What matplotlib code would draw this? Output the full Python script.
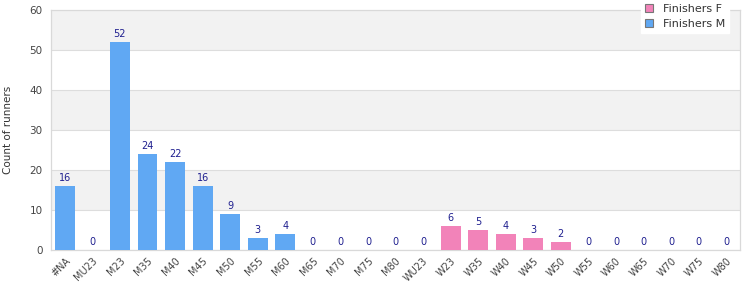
import matplotlib.pyplot as plt
from matplotlib.patches import Patch

# data
categories = ['#NA', 'MU23', 'M23', 'M35', 'M40', 'M45', 'M50', 'M55', 'M60', 'M65',
              'M70', 'M75', 'M80', 'WU23', 'W23', 'W35', 'W40', 'W45', 'W50', 'W55',
              'W60', 'W65', 'W70', 'W75', 'W80']
finishers_m = [16, 0, 52, 24, 22, 16, 9, 3, 4, 0, 0, 0, 0]
finishers_f = [0, 6, 5, 4, 3, 2, 0, 0, 0, 0, 0, 0]

col_m = '#60a8f3'
col_f = '#f283b9'

fig = plt.figure(figsize=(7.5, 3), dpi=100)
ax = fig.add_axes([51 / 750, 50 / 300, 689 / 750, 240 / 300])

x_m = list(range(len(finishers_m)))
x_f = list(range(len(finishers_m), len(categories)))
ax.bar(x_m, finishers_m, width=0.72, color=col_m, zorder=3)
ax.bar(x_f, finishers_f, width=0.72, color=col_f, zorder=3)

# value labels
for x, v in zip(x_m + x_f, finishers_m + finishers_f):
    ax.text(x, v + 0.8, str(v), ha='center', va='bottom', fontsize=7, color='#1f1f8f', zorder=4)

ax.set_xlim(-0.5, len(categories) - 0.5)
ax.set_ylim(0, 60)
ax.set_yticks(range(0, 61, 10))
ax.tick_params(axis='y', length=0, labelsize=7.5, labelcolor='#444444', pad=6)
ax.tick_params(axis='x', length=0, labelsize=7, labelcolor='#444444', pad=4)
ax.set_xticks(range(len(categories)))
ax.set_xticklabels(categories, rotation=45, ha='right', rotation_mode='anchor')

# alternating bands + grid
for lo in range(0, 60, 10):
    if (lo // 10) % 2 == 1:
        ax.axhspan(lo, lo + 10, color='#f2f2f2', zorder=0, lw=0)
    ax.axhline(lo, color='#dddddd', lw=0.8, zorder=1)
for s in ax.spines.values():
    s.set_color('#d9d9d9')
    s.set_linewidth(0.9)

ax.set_ylabel('Count of runners', fontsize=7.5, color='#333333', labelpad=12)

handles = [Patch(facecolor=col_f, edgecolor='#777777', lw=0.8, label='Finishers F'),
           Patch(facecolor=col_m, edgecolor='#777777', lw=0.8, label='Finishers M')]
leg = fig.legend(handles=handles, loc='upper left', bbox_to_anchor=(641 / 750, 1.0),
                 fontsize=8, frameon=True, fancybox=False, framealpha=1,
                 handlelength=0.75, handleheight=0.75, handletextpad=0.9,
                 labelspacing=0.45, borderpad=0.35, borderaxespad=0, labelcolor='#333333')
leg.get_frame().set_edgecolor('white')

plt.savefig('out.png', dpi=100)
